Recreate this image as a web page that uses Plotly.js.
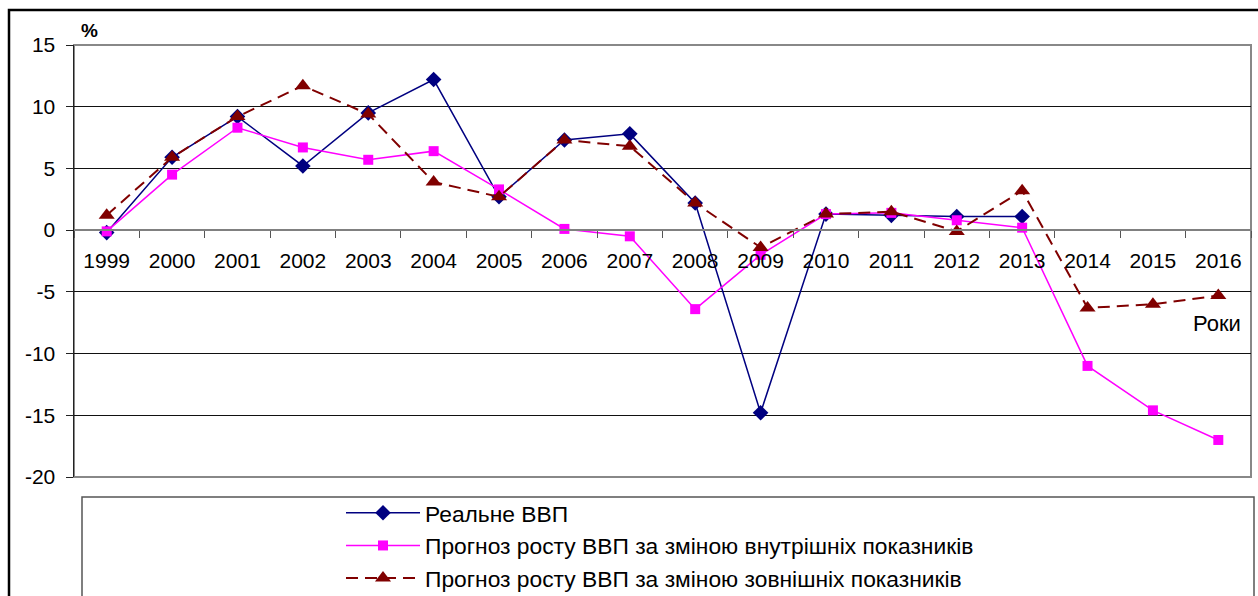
<!DOCTYPE html>
<html>
<head>
<meta charset="utf-8">
<script src="https://cdn.plot.ly/plotly-3.0.1.min.js"></script>
<style>
html,body{margin:0;padding:0;background:#fff;}
#chart{width:1258px;height:596px;}
</style>
</head>
<body>
<div id="chart"></div>
<script>
const years = ['1999','2000','2001','2002','2003','2004','2005','2006','2007','2008','2009','2010','2011','2012','2013','2014','2015','2016'];
const realGDP = [-0.2, 5.9, 9.2, 5.2, 9.5, 12.2, 2.7, 7.3, 7.8, 2.2, -14.8, 1.3, 1.2, 1.1, 1.1, null, null, null];
const internalForecast = [-0.1, 4.5, 8.3, 6.7, 5.7, 6.4, 3.3, 0.1, -0.5, -6.4, -2.0, 1.3, 1.4, 0.8, 0.2, -11.0, -14.6, -17.0];
const externalForecast = [1.2, 5.9, 9.2, 11.7, 9.4, 3.9, 2.7, 7.3, 6.8, 2.2, -1.4, 1.3, 1.5, -0.1, 3.2, -6.3, -6.0, -5.3];
const seriesNames = ['Реальне ВВП', 'Прогноз росту ВВП за зміною внутрішніх показників', 'Прогноз росту ВВП за зміною зовнішніх показників'];
const yTicks = [-20, -15, -10, -5, 0, 5, 10, 15];

const FONT = 'Liberation Sans, Arial, sans-serif';
const W = 1258, H = 596;
const L = 74, R = 1251, T = 45, B = 477;
const px = x => (x - L) / (R - L);
const py = y => (B - y) / (B - T);

const traces = [
  {x: years, y: realGDP, name: seriesNames[0], type: 'scatter', mode: 'lines+markers',
   legendgroup: 'a', line: {color: '#000080', width: 1.5}, marker: {symbol: 'diamond', size: 12, color: '#000080'}},
  {x: years, y: internalForecast, name: seriesNames[1], type: 'scatter', mode: 'lines+markers',
   legendgroup: 'b', line: {color: '#FF00FF', width: 1.5}, marker: {symbol: 'square', size: 10, color: '#FF00FF'}},
  {x: years, y: externalForecast, name: seriesNames[2], type: 'scatter', mode: 'lines+markers',
   legendgroup: 'c', line: {color: '#800000', width: 2, dash: '12px,7px'}, marker: {symbol: 'triangle-up', size: 14, color: '#800000'}}
];

const layout = {
  width: W, height: H,
  margin: {l: L, r: W - R, t: T, b: H - B, pad: 0, autoexpand: false},
  paper_bgcolor: '#fff', plot_bgcolor: '#fff',
  font: {family: FONT, size: 21, color: '#000'},
  showlegend: true,
  legend: {
    x: px(341), y: py(491.5), xanchor: 'left', yanchor: 'top',
    bgcolor: 'rgba(0,0,0,0)', borderwidth: 0,
    font: {family: FONT, size: 22.8, color: '#000'},
    itemwidth: 74, tracegroupgap: 2, traceorder: 'normal'
  },
  xaxis: {
    type: 'category', categoryorder: 'array', categoryarray: years,
    range: [-0.5, 17.5], automargin: false,
    anchor: 'free', position: 20 / 35,
    showline: true, linecolor: '#808080', linewidth: 2,
    ticks: 'outside', tickson: 'boundaries', ticklen: 7, tickcolor: '#555', tickwidth: 1,
    ticklabelstandoff: 12,
    showgrid: false, zeroline: false,
    tickfont: {family: FONT, size: 21, color: '#000'}
  },
  yaxis: {
    range: [-20, 15], tickmode: 'array', tickvals: yTicks, ticktext: yTicks.map(String),
    automargin: false,
    showline: true, linecolor: '#222', linewidth: 1.5,
    ticks: 'outside', ticklen: 7, tickcolor: '#222', tickwidth: 1,
    ticklabelstandoff: 6,
    showgrid: true, gridcolor: '#111', gridwidth: 1, zeroline: false,
    tickfont: {family: FONT, size: 21, color: '#000'}
  },
  shapes: [
    {type: 'rect', xref: 'paper', yref: 'paper', x0: 0, x1: 1, y0: 0, y1: 1,
     line: {color: '#888', width: 2}, layer: 'below'},
    {type: 'rect', xref: 'paper', yref: 'paper', x0: px(82), x1: px(1254), y0: py(497), y1: py(605),
     line: {color: '#555', width: 1.5}, fillcolor: 'rgba(0,0,0,0)', layer: 'below'},
    {type: 'rect', xref: 'paper', yref: 'paper', x0: px(9), x1: px(1262), y0: py(10), y1: py(605),
     line: {color: '#000', width: 2.5}, fillcolor: 'rgba(0,0,0,0)', layer: 'below'}
  ],
  annotations: [
    {text: '<b>%</b>', xref: 'paper', yref: 'paper', x: px(79), y: py(31), xanchor: 'left', yanchor: 'middle',
     showarrow: false, font: {family: FONT, size: 19, color: '#000'}},
    {text: 'Роки', xref: 'paper', yref: 'paper', x: px(1243), y: py(323), xanchor: 'right', yanchor: 'middle',
     showarrow: false, font: {family: FONT, size: 22, color: '#000'}}
  ]
};

Plotly.newPlot('chart', traces, layout, {displayModeBar: false, staticPlot: true});
</script>
</body>
</html>
